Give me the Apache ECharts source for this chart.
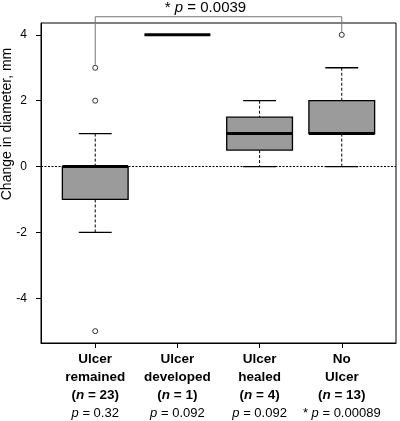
<!DOCTYPE html>
<html>
<head>
<meta charset="utf-8">
<script src="https://cdn.jsdelivr.net/npm/echarts@6/dist/echarts.min.js"></script>
<style>
    html, body { margin: 0; padding: 0; background: #fff; }
    #chart { width: 400px; height: 421px; }
</style>
</head>
<body>
<div id="chart"></div>
<script>
'use strict';

// groups, left to right
var nameTop = ['Ulcer', 'Ulcer', 'Ulcer', 'No'];
var nameBottom = ['remained', 'developed', 'healed', 'Ulcer'];
var groupN = [23, 1, 4, 13];
var groupP = ['0.32', '0.092', '0.092', '0.00089'];
var groupStar = ['', '', '', '* '];

// box statistics per group
var lowerWhisker = [-2, 4, 0, 0];
var q1 = [-1, 4, 0.5, 1];
var median = [0, 4, 1, 1];
var q3 = [0, 4, 1.5, 2];
var upperWhisker = [1, 4, 2, 3];

// outliers as [group position, value]
var outliers = [[1, 3], [1, 2], [1, -5], [4, 4]];

var yTicks = [-4, -2, 0, 2, 4];
var groupTicks = [1, 2, 3, 4];

// comparison bracket between group 1 and 4
var bracketFrom = [1, 3];
var bracketTo = [4, 4];
var bracketLevel = 4.55;
var bracketP = '0.0039';

var yTitle = 'Change in diameter, mm';

var FONT = '"Liberation Sans", Arial, sans-serif';
var BOX_HALF = 0.4;

var boxData = groupTicks.map(function(x, i) {
    return [x, lowerWhisker[i], q1[i], median[i], q3[i], upperWhisker[i]];
});

function renderBox(params, api) {
    var x = api.value(0);
    var lo = api.value(1), b1 = api.value(2), med = api.value(3), b3 = api.value(4), hi = api.value(5);
    var pHi = api.coord([x, hi]);
    var pB3 = api.coord([x, b3]);
    var pB1 = api.coord([x, b1]);
    var pLo = api.coord([x, lo]);
    var boxL = api.coord([x - BOX_HALF, b3]);
    var boxR = api.coord([x + BOX_HALF, b1]);
    var capL = api.coord([x - BOX_HALF / 2, 0])[0];
    var capR = api.coord([x + BOX_HALF / 2, 0])[0];
    var pMed = api.coord([x, med]);
    var dash = { stroke: '#000', lineWidth: 1, lineDash: [3, 2] };
    var solid = { stroke: '#000', lineWidth: 1.3 };
    return {
        type: 'group',
        children: [
            { type: 'line', shape: { x1: pHi[0], y1: pHi[1], x2: pB3[0], y2: pB3[1] }, style: dash },
            { type: 'line', shape: { x1: pB1[0], y1: pB1[1], x2: pLo[0], y2: pLo[1] }, style: dash },
            { type: 'line', shape: { x1: capL, y1: pHi[1], x2: capR, y2: pHi[1] }, style: solid },
            { type: 'line', shape: { x1: capL, y1: pLo[1], x2: capR, y2: pLo[1] }, style: solid },
            {
                type: 'rect',
                shape: { x: boxL[0], y: boxL[1], width: boxR[0] - boxL[0], height: boxR[1] - boxL[1] },
                style: { fill: '#9b9b9b', stroke: '#000', lineWidth: 1.3 }
            },
            { type: 'line', shape: { x1: boxL[0], y1: pMed[1], x2: boxR[0], y2: pMed[1] }, style: { stroke: '#000', lineWidth: 3 } }
        ]
    };
}

function groupLabel(value) {
    var i = groupTicks.indexOf(value);
    if (i < 0) return '';
    return '{b|' + nameTop[i] + '}\n{b|' + nameBottom[i] + '}\n' +
        '{b|(}{bi|n}{b| = ' + groupN[i] + ')}\n' +
        '{r|' + groupStar[i] + '}{i|p}{r| = ' + groupP[i] + '}';
}

var chart = echarts.init(document.getElementById('chart'));

chart.setOption({
    animation: false,
    grid: {
        left: 41, right: 4, top: 23, bottom: 78,
        outerBoundsMode: 'none',
        containLabel: false,
        show: true, borderColor: '#000', borderWidth: 1
    },
    xAxis: {
        type: 'value',
        min: 0.34,
        max: 4.66,
        splitLine: { show: false },
        axisLine: { show: true, onZero: false, lineStyle: { color: '#000', width: 1 } },
        axisTick: { show: true, customValues: groupTicks, length: 5, lineStyle: { color: '#000' } },
        axisLabel: {
            customValues: groupTicks,
            margin: 7,
            formatter: groupLabel,
            rich: {
                b: { fontFamily: FONT, fontSize: 13.5, fontWeight: 'bold', color: '#000', lineHeight: 18 },
                bi: { fontFamily: FONT, fontSize: 13.5, fontWeight: 'bold', fontStyle: 'italic', color: '#000', lineHeight: 18 },
                r: { fontFamily: FONT, fontSize: 13, color: '#000', lineHeight: 18 },
                i: { fontFamily: FONT, fontSize: 13, fontStyle: 'italic', color: '#000', lineHeight: 18 }
            }
        }
    },
    yAxis: {
        type: 'value',
        min: -5.36,
        max: 4.36,
        splitLine: { show: false },
        axisLine: { show: true, onZero: false, lineStyle: { color: '#000', width: 1 } },
        axisTick: { show: true, customValues: yTicks, length: 5, lineStyle: { color: '#000' } },
        axisLabel: { customValues: yTicks, margin: 14, fontFamily: FONT, fontSize: 12, color: '#000' }
    },
    series: [
        {
            type: 'custom',
            renderItem: renderBox,
            data: boxData,
            encode: { x: 0, y: [1, 2, 3, 4, 5] },
            z: 3,
            markLine: {
                silent: true,
                symbol: 'none',
                label: { show: false },
                lineStyle: { color: '#000', type: [2, 1.5], width: 1.2 },
                data: [{ yAxis: 0 }],
                z: 2
            }
        },
        {
            type: 'scatter',
            data: outliers,
            symbol: 'circle',
            symbolSize: 5,
            itemStyle: { color: '#fff', borderColor: '#000', borderWidth: 1 },
            z: 4
        }
    ]
});

// bracket above the plot, placed through the chart's own scales
var pFrom = chart.convertToPixel({ gridIndex: 0 }, bracketFrom);
var pTo = chart.convertToPixel({ gridIndex: 0 }, bracketTo);
var bracketY = chart.convertToPixel({ gridIndex: 0 }, [1, bracketLevel])[1];
chart.setOption({
    graphic: [
        {
            type: 'polyline',
            shape: { points: [[pFrom[0], pFrom[1] - 3], [pFrom[0], bracketY], [pTo[0], bracketY], [pTo[0], pTo[1] - 3]] },
            style: { stroke: '#777', lineWidth: 1, fill: null },
            silent: true
        },
        {
            type: 'text',
            x: (pFrom[0] + pTo[0]) / 2 - 13,
            y: bracketY - 9,
            style: {
                text: '{r|* }{i|p}{r| = ' + bracketP + '}',
                align: 'center',
                verticalAlign: 'middle',
                rich: {
                    r: { fontFamily: FONT, fontSize: 15, color: '#000' },
                    i: { fontFamily: FONT, fontSize: 15, fontStyle: 'italic', color: '#000' }
                }
            }
        },
        {
            // y title sits above the plot middle in the original
            type: 'text',
            x: 7,
            y: 124,
            rotation: Math.PI / 2,
            style: {
                text: yTitle,
                align: 'center',
                verticalAlign: 'middle',
                fontFamily: FONT,
                fontSize: 14,
                fill: '#000'
            }
        }
    ]
});
</script>
</body>
</html>
